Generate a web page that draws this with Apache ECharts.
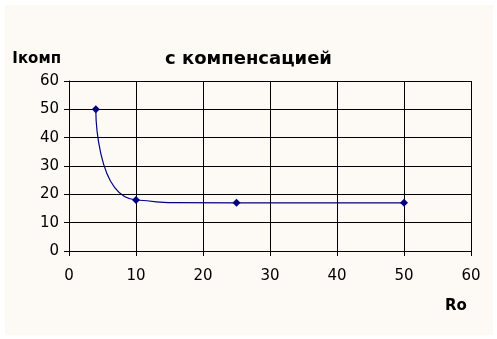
<!DOCTYPE html>
<html><head><meta charset="utf-8">
<script src="https://cdn.jsdelivr.net/npm/echarts@6/dist/echarts.min.js"></script>
<style>html,body{margin:0;padding:0;background:#fff}#c{width:497px;height:339px}</style>
</head><body><div id="c"></div>
<script>
const titleText = "с компенсацией";
const xName = "Ro";
const yName = "Iкомп";
const roValues = [4, 10, 25, 50];
const iValues = [50, 18, 17, 17];

const chart = echarts.init(document.getElementById('c'));
const font = 'DejaVu Sans';
chart.setOption({
  animation: false,
  backgroundColor: '#ffffff',
  graphic: [{type:'rect', shape:{x:5,y:5,width:488,height:330}, style:{fill:'#fdf9f4'}, z:-10, silent:true}],
  title: {text: titleText, left: 'center', top: 45,
    textStyle:{fontFamily: font, fontSize: 18, fontWeight:'bold', color:'#000'}},
  grid: {left: 69, top: 81, right: 26, bottom: 88},
  xAxis: {type:'value', min:0, max:60, interval:10,
    name: xName, nameLocation:'end', nameGap:-15,
    nameTextStyle:{fontFamily:font, fontSize:15, fontWeight:'bold', color:'#000', align:'center', verticalAlign:'top', padding:[48,0,0,0]},
    axisLine:{show:true, lineStyle:{color:'#000', width:1}},
    axisTick:{show:true, length:5, lineStyle:{color:'#000'}},
    axisLabel:{fontFamily:font, fontSize:15, color:'#000', margin:18},
    splitLine:{show:true, lineStyle:{color:'#000', width:1}}},
  yAxis: {type:'value', min:0, max:60, interval:10,
    name: yName, nameLocation:'end', nameGap:22,
    nameTextStyle:{fontFamily:font, fontSize:15, fontWeight:'bold', color:'#000', align:'right', verticalAlign:'middle', padding:[0,8,0,0]},
    axisLine:{show:true, lineStyle:{color:'#000', width:1}},
    axisTick:{show:true, length:5, lineStyle:{color:'#000'}},
    axisLabel:{fontFamily:font, fontSize:15, color:'#000', margin:10},
    splitLine:{show:true, lineStyle:{color:'#000', width:1}}},
  series: [{type:'line', smooth:1,
    data: roValues.map((x,i)=>[x, iValues[i]]),
    symbol:'diamond', symbolSize:8,
    itemStyle:{color:'#000080'},
    lineStyle:{color:'#000080', width:1.2}}]
});
</script></body></html>
